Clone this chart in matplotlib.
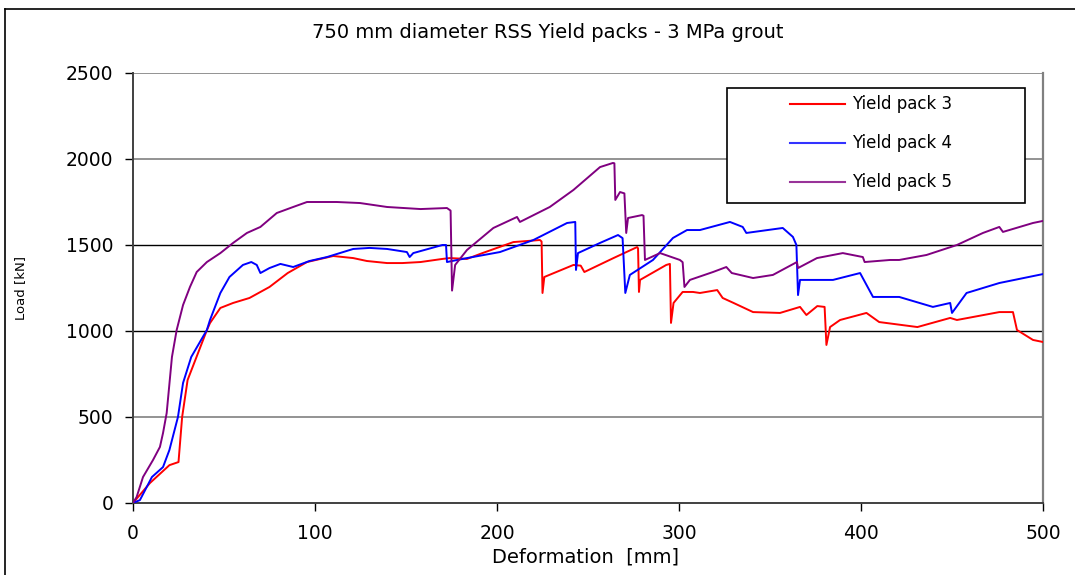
import numpy as np
import matplotlib.pyplot as plt
from matplotlib.lines import Line2D
from matplotlib.patches import Rectangle

# Yield pack 3 (red)
x3 = [0, 9.3, 20, 25, 27, 30, 40.6, 42.3, 48, 55, 64, 75, 85, 95.6, 110, 121, 128.5, 139.6, 148, 158,
      170, 174, 183.5, 192, 209, 223.6, 224.5, 225, 226, 242, 246, 248, 264, 277, 277.5, 278, 278.6,
      293, 295, 295.6, 297, 302, 307.7, 311.5, 321, 324, 330, 340.7, 355.5, 366.5, 370, 376, 380,
      381, 383, 388.5, 403, 410, 431, 449, 452.7, 476, 483.5, 485.7, 494.5, 500]
y3 = [0, 116, 220, 238, 500, 715, 1005, 1046, 1134, 1163, 1192, 1256, 1337, 1401, 1436, 1424, 1407,
      1395, 1395, 1401, 1419, 1424, 1419, 1453, 1517, 1529, 1520, 1221, 1314, 1384, 1380, 1343,
      1424, 1488, 1480, 1227, 1297, 1384, 1390, 1047, 1163, 1227, 1227, 1221, 1238, 1192, 1163,
      1110, 1105, 1140, 1093, 1145, 1140, 919, 1023, 1064, 1105, 1052, 1023, 1076, 1064, 1110,
      1110, 1006, 948, 936]

# Yield pack 4 (blue)
x4 = [0, 3.8, 10.4, 16.5, 20, 24.7, 27.5, 32, 40.6, 42.3, 48, 53, 60.4, 65, 68, 70, 75, 81, 88, 97,
      106.6, 121, 130, 139.6, 150.5, 152, 154, 170, 172, 172.5, 183.5, 201.6, 220, 238.5, 243,
      243.4, 244.5, 256.6, 266.5, 269, 270.5, 273, 285.7, 296.7, 304.4, 311.5, 328, 335, 337, 357,
      362.6, 364.5, 365.4, 366.5, 384.6, 399.5, 406.6, 421, 439.5, 449, 450, 458, 476, 500]
y4 = [0, 17, 151, 209, 308, 500, 698, 849, 1006, 1064, 1221, 1314, 1384, 1401, 1384, 1337, 1366,
      1390, 1372, 1407, 1430, 1477, 1483, 1477, 1459, 1430, 1453, 1500, 1500, 1401, 1424, 1459,
      1529, 1628, 1634, 1355, 1453, 1512, 1558, 1540, 1221, 1326, 1413, 1541, 1587, 1587, 1634,
      1605, 1570, 1599, 1547, 1500, 1209, 1297, 1297, 1337, 1198, 1198, 1140, 1163, 1105, 1221,
      1279, 1331]

# Yield pack 5 (purple)
x5 = [0, 2, 5.5, 11, 14.8, 16.5, 18.5, 21.4, 24, 27.5, 31.3, 35, 40.6, 48, 55, 62.6, 70, 79, 88,
      95.6, 112, 124.7, 139.6, 158, 172.5, 174.5, 175.3, 177, 183.5, 198, 211, 212.6, 229, 242,
      256.6, 263.7, 264.5, 265, 267.6, 270, 271, 272, 279.7, 280.5, 281.3, 289.6, 300.5, 302,
      303, 306, 318.7, 326, 329, 340.7, 351.6, 364.8, 365.4, 375.8, 390, 401, 402, 416, 421, 436,
      452.7, 467, 476, 478, 494.5, 500]
y5 = [0, 35, 151, 250, 326, 407, 523, 849, 1006, 1151, 1256, 1343, 1401, 1453, 1512, 1570, 1605,
      1686, 1721, 1750, 1750, 1744, 1721, 1709, 1715, 1700, 1235, 1384, 1471, 1599, 1663, 1634,
      1721, 1820, 1953, 1977, 1975, 1762, 1808, 1800, 1570, 1657, 1674, 1670, 1413, 1453, 1413,
      1400, 1256, 1297, 1343, 1372, 1337, 1308, 1326, 1401, 1366, 1424, 1453, 1430, 1401, 1413,
      1413, 1442, 1500, 1570, 1605, 1576, 1628, 1640]

series_labels = ['Yield pack 3', 'Yield pack 4', 'Yield pack 5']
series_colors = ['#ff0000', '#0000ff', '#800080']
legend_colors = ['#ff0000', '#3333ff', '#993399']
x_ticks = [0, 100, 200, 300, 400, 500]
y_ticks = [0, 500, 1000, 1500, 2000, 2500]

plt.rcParams['font.family'] = ['DejaVu Sans']

W, H = 1075, 575
fig = plt.figure(figsize=(W / 100, H / 100), dpi=100)
ax = fig.add_axes([133 / W, 1 - 503 / H, 910 / W, 430 / H])

# gridlines (Excel-like, mixed grey / black)
grid_cols = {500: '#808080', 1000: '#000000', 1500: '#000000', 2000: '#808080', 2500: '#808080'}
for yv in y_ticks[1:]:
    ax.axhline(yv, color=grid_cols[yv], lw=1.2 if grid_cols[yv] == '#808080' else 1.0, zorder=1)

for xs, ys, lab, col in zip([x3, x4, x5], [y3, y4, y5], series_labels, series_colors):
    ax.plot(xs, ys, color=col, lw=1.4, label=lab, zorder=3)

ax.set_xlim(0, 500)
ax.set_ylim(0, 2500)
ax.set_xticks(x_ticks)
ax.set_yticks(y_ticks)
ax.tick_params(direction='out', length=6, width=1, labelsize=13.5, colors='#000000', pad=8)
ax.tick_params(axis='x', pad=9)

ax.spines['top'].set_visible(False)
ax.spines['right'].set_color('#808080')
ax.spines['right'].set_linewidth(1.6)
ax.spines['left'].set_color('#404040')
ax.spines['bottom'].set_color('#404040')
ax.spines['left'].set_linewidth(1.4)
ax.spines['bottom'].set_linewidth(1.4)

ax.set_xlabel('Deformation  [mm]', fontsize=14)
ax.xaxis.set_label_coords((586 - 133) / 910, -(557 - 503) / 430)
ax.xaxis.label.set_va('center')
ax.set_ylabel('Load [kN]', fontsize=9.5)
ax.yaxis.set_label_coords(-(133 - 27) / 910, (503 - 288) / 430)

fig.text(548 / W, 1 - 33 / H, '750 mm diameter RSS Yield packs - 3 MPa grout',
         ha='center', va='center', fontsize=14)

# legend box drawn Excel style
fig.add_artist(Rectangle((727 / W, 1 - 203 / H), (1025 - 727) / W, (203 - 88) / H,
                         transform=fig.transFigure, facecolor='white', edgecolor='black',
                         lw=1.2, zorder=5))
for i, (lab, col) in enumerate(zip(series_labels, legend_colors)):
    yy = 1 - (104 + 39 * i) / H
    fig.add_artist(Line2D([790 / W, 845 / W], [yy, yy], color=col, lw=1.5, zorder=6))
    fig.text(852 / W, yy, lab, ha='left', va='center', fontsize=12, zorder=6)

# outer chart border
fig.add_artist(Line2D([5 / W, 5 / W], [0, 1 - 9 / H], color='black', lw=1.2))
fig.add_artist(Line2D([5 / W, 1], [1 - 9 / H, 1 - 9 / H], color='black', lw=1.2))

plt.savefig('out.png', dpi=100)
